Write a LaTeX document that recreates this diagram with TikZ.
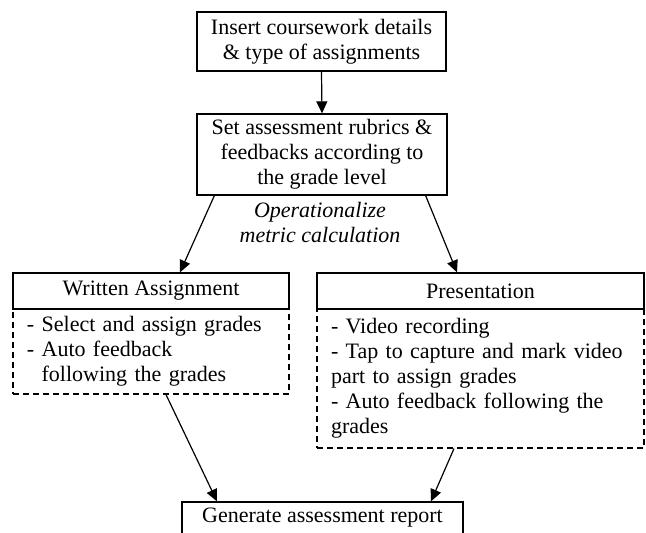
\documentclass[tikz,border=0pt]{standalone}
\usepackage{fontspec}
\setmainfont{Liberation Serif}
\usepackage{tikz}
\usetikzlibrary{arrows.meta,positioning}
\tikzset{
  stepbox/.style={
    shape = rectangle,
    draw,
    line width = 1.3pt,
    inner sep = 0pt,
    align = center,
    font = \fontsize{22}{25}\selectfont
  },
  headbox/.style={
    stepbox,
    minimum height = 36pt
  },
  listbox/.style={
    shape = rectangle,
    draw,
    dashed,
    dash pattern = on 6pt off 4pt,
    line width = 1.2pt,
    inner xsep = 14pt,
    inner ysep = 0pt,
    align = left,
    font = \fontsize{22}{25}\selectfont
  },
  note/.style={
    align = center,
    inner sep = 0pt,
    font = \fontsize{22}{25}\selectfont\itshape
  },
  flow/.style={
    -{Triangle[length=12pt,width=11pt]},
    line width = 1.2pt
  }
}

\begin{document}
\begin{tikzpicture}[x=1pt,y=-1pt]
        \useasboundingbox (0,0) rectangle (646,533);
        \clip (0,0) rectangle (646,533);
        \node[stepbox, minimum width=249pt, minimum height=59pt] (insert) at (321.5,41.5) {Insert coursework details\\\& type of assignments};
        \node[stepbox, minimum width=250pt, minimum height=81pt] (rubric) at (322,154.5) {Set assessment rubrics \&\\feedbacks according to\\the grade level};
        \node[note] (metric) at (320,222.5) {Operationalize\\metric calculation};
        \node[listbox, text width=248pt, minimum height=85pt] (wrbody) at (151,351.5) {- Select and assign grades\\- Auto feedback\\\phantom{- }following the grades};
        \node[listbox, text width=299pt, minimum height=139pt] (prbody) at (480.5,378.5) {- Video recording\\- Tap to capture and mark video\\part to assign grades\\- Auto feedback following the\\grades};
        \node[headbox, fill=white, minimum width=276pt] (wrhead) at (151,291) {Written Assignment};
        \node[headbox, fill=white, minimum width=327pt] (prhead) at (480.5,291) {Presentation};
        \node[stepbox, minimum width=281pt, minimum height=56pt, text depth=30pt] (report) at (322.5,530) {Generate assessment report};
        \draw[flow] (insert.south) -- (rubric.north);
        \draw[flow] ([xshift=18pt]rubric.south west) -- ([xshift=29pt]wrhead.north);
        \draw[flow] ([xshift=-22pt]rubric.south east) -- ([xshift=-23.5pt]prhead.north);
        \draw[flow] ([xshift=15pt]wrbody.south) -- ([xshift=-105.5pt]report.north);
        \draw[flow] ([xshift=-26.5pt]prbody.south) -- ([xshift=108.5pt]report.north);
\end{tikzpicture}
\end{document}
